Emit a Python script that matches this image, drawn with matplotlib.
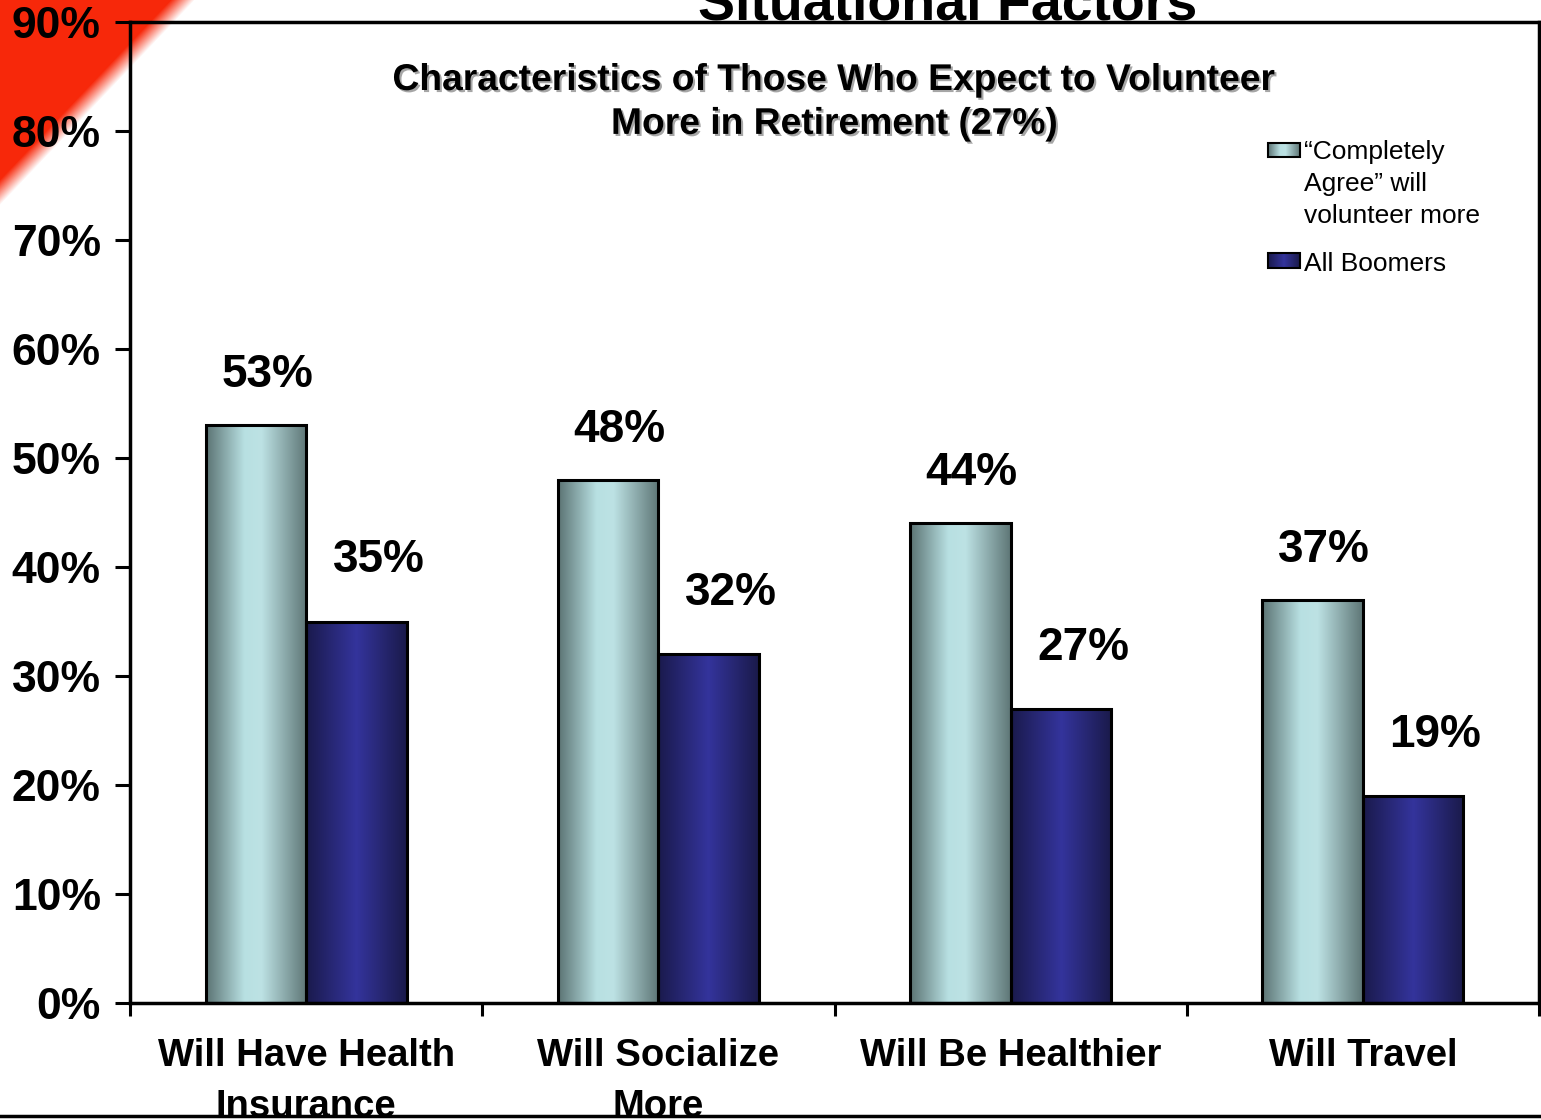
import numpy as np
import matplotlib
matplotlib.use('Agg')
import matplotlib.pyplot as plt
import matplotlib.patheffects as pe
from matplotlib.colors import LinearSegmentedColormap
from matplotlib.lines import Line2D

# datos
categories = ['Will Have Health\nInsurance', 'Will Socialize\nMore', 'Will Be Healthier', 'Will Travel']
completely_agree = [53, 48, 44, 37]
all_boomers = [35, 32, 27, 19]
series_names = ['\u201cCompletely\nAgree\u201d will\nvolunteer more', 'All Boomers']
y_ticks = list(range(0, 91, 10))

plt.rcParams['font.family'] = ['Liberation Sans', 'DejaVu Sans']

W, H = 1541, 1120
fig = plt.figure(figsize=(W / 100, H / 100), dpi=100)

# esquina roja de la diapositiva
bg = fig.add_axes([0, 0, 1, 1], zorder=-5)
yy, xx = np.mgrid[0:260, 0:260]
alpha = np.clip((182 - (xx + 0.95 * yy)) / 24 + 0.5, 0, 1)
red = np.zeros((260, 260, 4))
red[..., 0], red[..., 1], red[..., 2], red[..., 3] = 0.97, 0.16, 0.04, alpha
bg.imshow(red, extent=(0, 260, 260, 0), interpolation='bilinear', aspect='auto')
bg.set_xlim(0, W)
bg.set_ylim(H, 0)
bg.axis('off')

ax = fig.add_axes([130 / W, 117 / H, 1409 / W, 981 / H])
ax.patch.set_visible(False)

light_cmap = LinearSegmentedColormap.from_list(
    'light', [(0, '#5b7373'), (0.38, '#b8e0e2'), (0.55, '#bde2e4'), (1, '#5e7676')])
dark_cmap = LinearSegmentedColormap.from_list(
    'dark', [(0, '#1a1a4c'), (0.5, '#34349c'), (1, '#1a1a4a')])
grad = np.linspace(0, 1, 256).reshape(1, -1)

x = np.arange(len(categories))
w = 0.285
b1 = ax.bar(x - w, completely_agree, w, align='edge', facecolor='none',
            edgecolor='black', linewidth=2.2, zorder=3)
b2 = ax.bar(x, all_boomers, w, align='edge', facecolor='none',
            edgecolor='black', linewidth=2.2, zorder=3)
for bars, cmap in ((b1, light_cmap), (b2, dark_cmap)):
    for r in bars:
        x0, y0 = r.get_xy()
        ax.imshow(grad, cmap=cmap, aspect='auto', interpolation='bilinear', zorder=2,
                  extent=(x0, x0 + r.get_width(), y0, y0 + r.get_height()))

# etiquetas de valores
for bars, vals, dx, dy in ((b1, completely_agree, 8, 36), (b2, all_boomers, 16, 44)):
    for r, v in zip(bars, vals):
        ax.annotate(f'{v}%', (r.get_x() + r.get_width() / 2, r.get_height()),
                    xytext=(dx, dy), textcoords='offset points', ha='center', va='center',
                    fontsize=33, fontweight='bold', zorder=4)

ax.set_xlim(-0.5, len(categories) - 0.5)
ax.set_ylim(0, 90)

ax.set_yticks(y_ticks)
ax.set_yticklabels([f'{v}%' for v in y_ticks], fontsize=32, fontweight='bold')
ax.tick_params(axis='y', length=11, width=2.2, pad=10)

ax.set_xticks(np.arange(-0.5, len(categories), 1))
ax.set_xticklabels([])
ax.set_xticks(x, minor=True)
ax.set_xticklabels(categories, minor=True, fontsize=27.5, fontweight='bold', linespacing=1.55)
ax.tick_params(axis='x', which='major', length=9, width=2.2)
ax.tick_params(axis='x', which='minor', length=0, pad=25)

for s in ax.spines.values():
    s.set_linewidth(2.5)

# título interior con sombra
ax.text(0.5, 0.918, 'Characteristics of Those Who Expect to Volunteer\nMore in Retirement (27%)',
        transform=ax.transAxes, ha='center', va='center', fontsize=26.8, fontweight='bold',
        linespacing=1.33,
        path_effects=[pe.SimplePatchShadow(offset=(1.5, -1.5), shadow_rgbFace='gray', alpha=0.7),
                      pe.Normal()])

# leyenda hecha a mano
leg = [((0.8077, 0.8304, 0.8624, 0.8767), light_cmap, series_names[0], 0.8349),
       ((0.8077, 0.8304, 0.7492, 0.7645), dark_cmap, series_names[1], 0.7533)]
for (lx0, lx1, ly0, ly1), cmap, name, ty in leg:
    ax.imshow(grad, cmap=cmap, aspect='auto', extent=(lx0, lx1, ly0, ly1),
              transform=ax.transAxes, zorder=3)
    ax.add_patch(plt.Rectangle((lx0, ly0), lx1 - lx0, ly1 - ly0, transform=ax.transAxes,
                               facecolor='none', edgecolor='black', linewidth=1.5, zorder=4))
    ax.text(0.8332, ty, name, transform=ax.transAxes, ha='left', va='center',
            fontsize=19, linespacing=1.42)

fig.text(948 / W, 1 - 19 / H, 'Situational Factors', ha='center', va='baseline',
         fontsize=40, fontweight='bold')

fig.add_artist(Line2D([0, 1], [1 - 1116 / H] * 2, transform=fig.transFigure,
                      color='black', linewidth=2.5, zorder=10))

plt.savefig('out.png', dpi=100)
